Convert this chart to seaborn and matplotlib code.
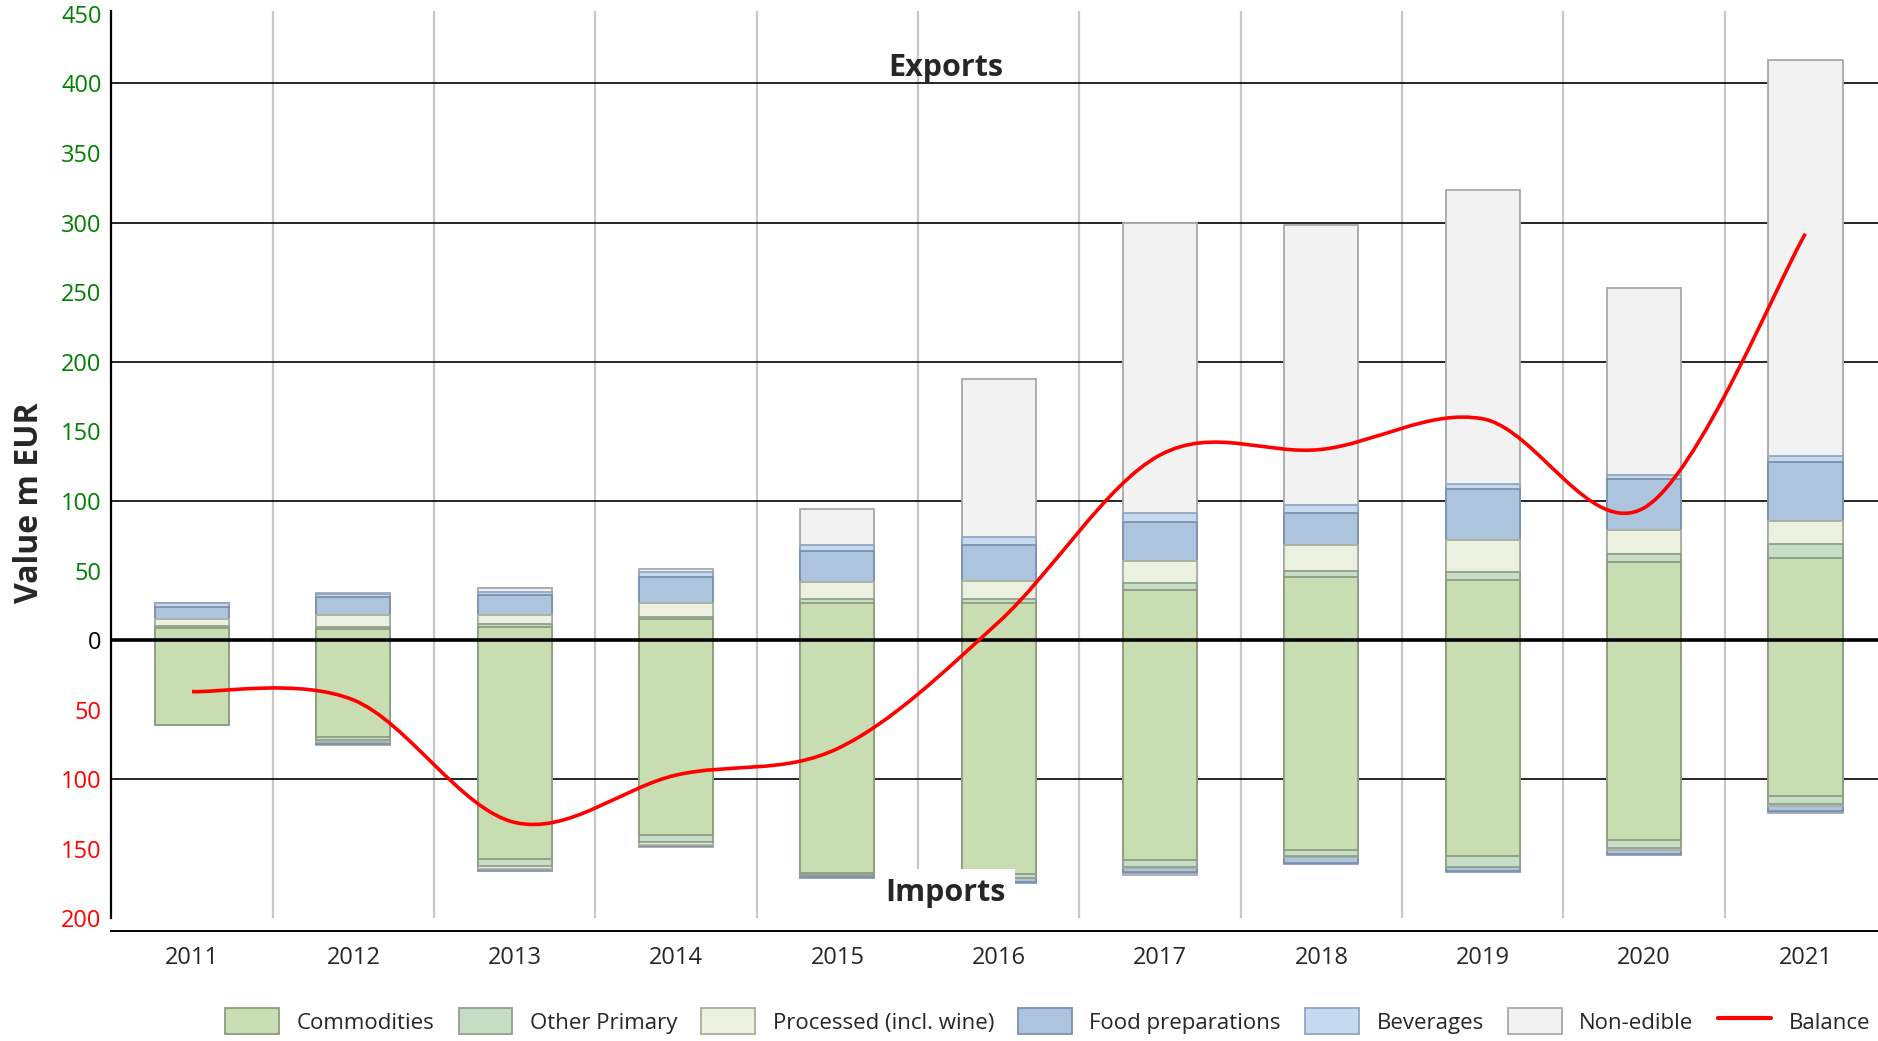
import matplotlib
matplotlib.use('Agg')
import matplotlib.pyplot as plt
from matplotlib.lines import Line2D
from matplotlib.patches import Patch, PathPatch
from matplotlib.path import Path
import numpy as np
import pandas as pd
import seaborn as sns

years = ['2011', '2012', '2013', '2014', '2015', '2016',
         '2017', '2018', '2019', '2020', '2021']

categories = ['Commodities', 'Other Primary', 'Processed (incl. wine)',
              'Food preparations', 'Beverages', 'Non-edible']

# exports, m EUR
commodities_exp = [8.6, 7.9, 9.1, 14.8, 26.3, 26.4, 36.3, 45.5, 43.1, 55.8, 59.0]
other_exp       = [1.5, 1.7, 2.4, 1.9, 3.1, 3.3, 4.6, 4.0, 6.0, 6.0, 10.0]
processed_exp   = [4.8, 8.1, 6.2, 9.6, 12.7, 12.5, 15.8, 18.8, 22.7, 17.1, 16.3]
foodprep_exp    = [8.6, 13.4, 14.6, 18.7, 22.0, 26.1, 28.4, 22.8, 36.7, 36.7, 43.0]
beverages_exp   = [3.4, 1.9, 2.6, 3.6, 4.0, 5.6, 5.9, 5.9, 4.0, 2.8, 4.0]
nonedible_exp   = [0.0, 1.0, 2.2, 2.4, 26.0, 113.5, 208.4, 201.2, 211.0, 134.8, 284.7]

# imports, m EUR (drawn below zero)
commodities_imp = [60.8, 69.4, 157.3, 139.8, 167.0, 168.2, 158.3, 151.0, 155.1, 143.5, 112.0]
other_imp       = [0.0, 2.2, 5.3, 5.5, 1.5, 2.6, 4.6, 4.0, 7.6, 6.0, 6.0]
processed_imp   = [0.0, 1.9, 1.9, 1.7, 0.5, 0.0, 0.5, 0.5, 0.5, 1.2, 1.0]
foodprep_imp    = [0.0, 0.8, 0.7, 0.7, 1.5, 3.3, 3.0, 5.0, 2.8, 2.8, 3.6]
beverages_imp   = [0.0, 0.5, 0.5, 0.5, 0.5, 0.5, 1.0, 0.5, 0.5, 0.6, 1.0]
nonedible_imp   = [0.0, 0.5, 0.5, 0.5, 0.0, 0.0, 1.3, 0.0, 0.0, 0.6, 0.8]

balance = [-37, -43, -131, -97, -78, 13, 133, 137, 159, 95, 292]

fill_colors = ['#C9DDB3', '#C8DDC6', '#EBF0E0', '#ADC4DE', '#C5D9F1', '#F2F2F2']
edge_colors = ['#8E9C80', '#8FA08C', '#A9AE9E', '#7D90AA', '#93A6C0', '#A8A8A8']

sns.set_style('white')
plt.rcParams['font.family'] = ['Open Sans', 'DejaVu Sans']

fig = plt.figure(figsize=(18.78, 10.41), dpi=100)
ax = fig.add_axes([0.0593, 0.1057, 0.9407, 0.8837])

df_exp = pd.DataFrame(dict(zip(categories, [commodities_exp, other_exp, processed_exp,
                                            foodprep_exp, beverages_exp, nonedible_exp])),
                      index=years)
df_imp = pd.DataFrame(dict(zip(categories, [commodities_imp, other_imp, processed_imp,
                                            foodprep_imp, beverages_imp, nonedible_imp])),
                      index=years)
cum_exp = df_exp.cumsum(axis=1)
cum_imp = df_imp.cumsum(axis=1)

# stacked bars: draw the tallest cumulative layer first, then overlay
for i in reversed(range(len(categories))):
    cat = categories[i]
    for vals in (cum_exp[cat].values, -cum_imp[cat].values):
        sns.barplot(x=years, y=vals, color=fill_colors[i], edgecolor=edge_colors[i],
                    linewidth=1.3, width=0.46, saturation=1, errorbar=None,
                    ax=ax, zorder=3)

# horizontal grid and zero line
for yv in [400, 300, 200, 100, -100]:
    ax.axhline(yv, color='black', lw=1.2, zorder=1)
ax.axhline(0, color='black', lw=2.6, zorder=5)

# light vertical separators
ax.vlines(np.arange(len(years) - 1) + 0.5, -200, 452, color='#C8C8C8', lw=1.6, zorder=0)

# smoothed balance line (bezier through the yearly values)
xs = np.arange(len(years), dtype=float)
ys = np.array(balance, dtype=float)
n = len(xs)
verts = [(xs[0], ys[0])]
codes = [Path.MOVETO]
for k in range(n - 1):
    pm = (xs[max(k - 1, 0)], ys[max(k - 1, 0)])
    p0 = (xs[k], ys[k])
    p1 = (xs[k + 1], ys[k + 1])
    p2 = (xs[min(k + 2, n - 1)], ys[min(k + 2, n - 1)])
    c1 = (p0[0] + (p1[0] - pm[0]) / 6, p0[1] + (p1[1] - pm[1]) / 6)
    c2 = (p1[0] - (p2[0] - p0[0]) / 6, p1[1] - (p2[1] - p0[1]) / 6)
    verts += [c1, c2, p1]
    codes += [Path.CURVE4] * 3
ax.add_patch(PathPatch(Path(verts, codes), facecolor='none', edgecolor='#FF0000',
                       lw=2.6, zorder=10, capstyle='butt'))

ax.text(4.67, 411, 'Exports', ha='center', va='center', fontsize=22,
        fontweight='bold', zorder=11)
ax.text(4.67, -182, 'Imports', ha='center', va='center', fontsize=22,
        fontweight='bold', zorder=11,
        bbox=dict(facecolor='white', edgecolor='none', pad=7))

ax.set_xlim(-0.5, 10.45)
ax.set_ylim(-209, 452)

yt = np.arange(-200, 451, 50)
ax.set_yticks(yt)
ax.set_yticklabels([str(abs(v)) for v in yt])
for lab, v in zip(ax.get_yticklabels(), yt):
    lab.set_color('#FF0000' if v < 0 else ('#008000' if v > 0 else 'black'))
ax.tick_params(axis='y', length=0, pad=7, labelsize=17)
ax.tick_params(axis='x', length=0, pad=11, labelsize=17)
ax.set_xlabel('')
ax.set_ylabel('Value m EUR', fontsize=23, fontweight='bold')
ax.yaxis.set_label_coords(-0.037, 0.466)

for side in ['top', 'right']:
    ax.spines[side].set_visible(False)
ax.spines['left'].set_bounds(-200, 452)
ax.spines['left'].set_color('black')
ax.spines['left'].set_linewidth(1.6)
ax.spines['bottom'].set_color('black')
ax.spines['bottom'].set_linewidth(1.4)

handles = [Patch(facecolor=fill_colors[i], edgecolor=edge_colors[i], lw=1.3,
                 label=categories[i]) for i in range(len(categories))]
handles.append(Line2D([0], [0], color='#FF0000', lw=3, label='Balance'))
fig.legend(handles=handles, loc='center', bbox_to_anchor=(0.558, 0.019), ncol=7,
           frameon=False, fontsize=16, handlelength=2.4, handleheight=1.45,
           handletextpad=0.8, columnspacing=1.1)

fig.savefig('out.png', dpi=100)
